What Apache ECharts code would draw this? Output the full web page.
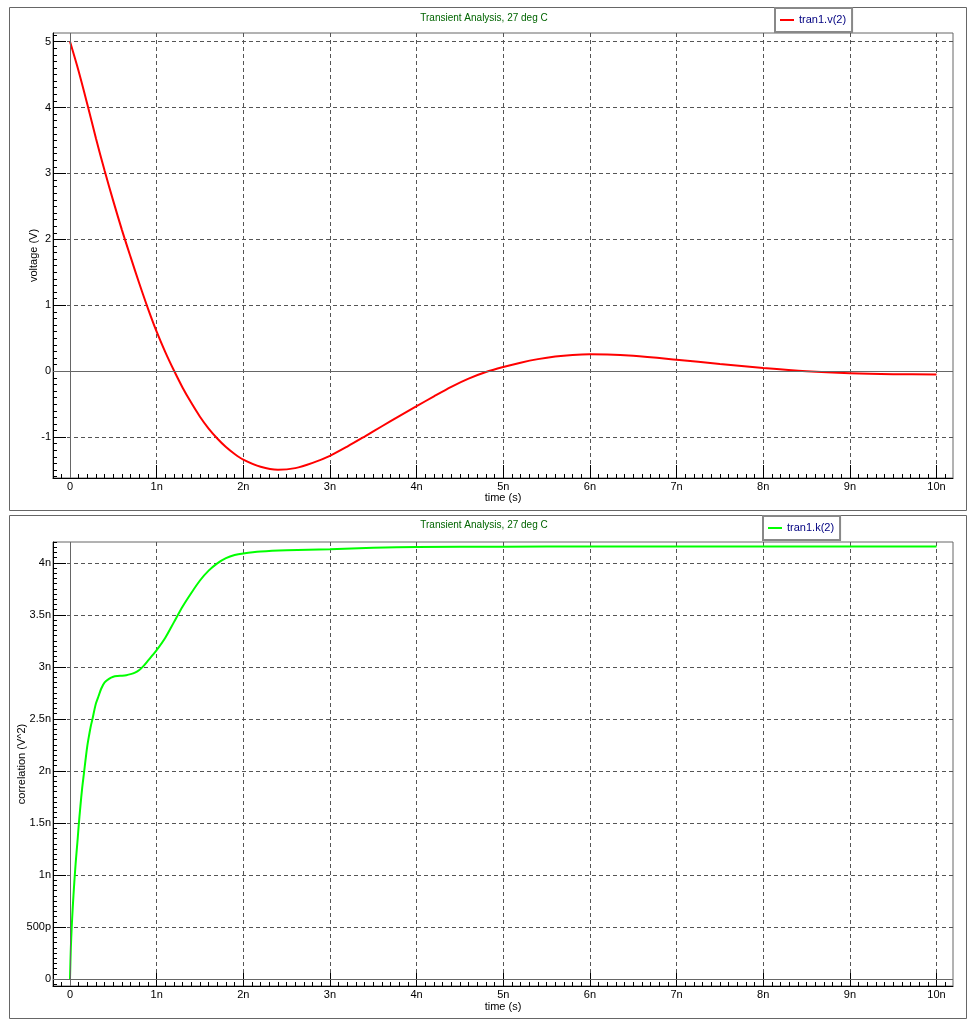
<!DOCTYPE html>
<html>
<head>
<meta charset="utf-8">
<script src="https://cdn.jsdelivr.net/npm/echarts@6/dist/echarts.min.js"></script>
<style>
  html, body { margin: 0; padding: 0; background: #fff; }
  #chart { width: 968px; height: 1021px; }
</style>
</head>
<body>
<div id="chart"></div>
<script>
// ---- data (time in ns) ----
const timeV = [0, 0.1, 0.2, 0.3, 0.4, 0.5, 0.6, 0.7, 0.8, 0.9, 1.0, 1.1, 1.2, 1.3, 1.4, 1.5, 1.6, 1.7, 1.8, 1.9, 2.0, 2.2, 2.4, 2.6, 2.8, 3.0, 3.2, 3.4, 3.6, 3.8, 4.0, 4.2, 4.4, 4.6, 4.8, 5.0, 5.2, 5.4, 5.6, 5.8, 6.0, 6.2, 6.5, 7.0, 7.5, 8.0, 8.5, 9.0, 9.5, 10.0];
const voltage = [5.0, 4.55, 4.05, 3.53, 3.04, 2.58, 2.14, 1.73, 1.33, 0.95, 0.60, 0.29, 0.01, -0.25, -0.48, -0.69, -0.87, -1.02, -1.15, -1.255, -1.34, -1.45, -1.495, -1.47, -1.39, -1.283, -1.143, -0.991, -0.835, -0.681, -0.531, -0.381, -0.237, -0.113, -0.013, 0.063, 0.129, 0.183, 0.223, 0.247, 0.257, 0.255, 0.235, 0.175, 0.11, 0.05, 0.0, -0.03, -0.045, -0.05];

const timeK = [0, 0.01, 0.02, 0.03, 0.04, 0.05, 0.06, 0.07, 0.08, 0.09, 0.1, 0.12, 0.14, 0.16, 0.18, 0.2, 0.22, 0.24, 0.26, 0.28, 0.3, 0.33, 0.36, 0.4, 0.45, 0.5, 0.55, 0.6, 0.65, 0.7, 0.75, 0.8, 0.85, 0.9, 0.95, 1.0, 1.1, 1.2, 1.3, 1.4, 1.5, 1.6, 1.7, 1.8, 1.9, 2.0, 2.2, 2.5, 3.0, 3.5, 4.0, 5.0, 6.0, 7.0, 8.0, 9.0, 10.0];
const corr = [0.0, 0.3, 0.5, 0.66, 0.8, 0.93, 1.05, 1.16, 1.26, 1.36, 1.47, 1.66, 1.83, 1.97, 2.11, 2.24, 2.34, 2.43, 2.50, 2.58, 2.65, 2.72, 2.79, 2.85, 2.885, 2.905, 2.912, 2.915, 2.92, 2.93, 2.945, 2.97, 3.01, 3.06, 3.11, 3.16, 3.28, 3.43, 3.58, 3.71, 3.83, 3.925, 3.995, 4.045, 4.075, 4.09, 4.108, 4.12, 4.13, 4.145, 4.153, 4.155, 4.156, 4.156, 4.157, 4.157, 4.157];

// ---- tick labels ----
const xTickValues = [0, 1, 2, 3, 4, 5, 6, 7, 8, 9, 10];
const xTickLabels = ['0', '1n', '2n', '3n', '4n', '5n', '6n', '7n', '8n', '9n', '10n'];
const vTickValues = [-1, 0, 1, 2, 3, 4, 5];
const vTickLabels = ['-1', '0', '1', '2', '3', '4', '5'];
const kTickValues = [0, 0.5, 1, 1.5, 2, 2.5, 3, 3.5, 4];
const kTickLabels = ['0', '500p', '1n', '1.5n', '2n', '2.5n', '3n', '3.5n', '4n'];

const titleText = 'Transient Analysis, 27 deg C';
const seriesNames = ['tran1.v(2)', 'tran1.k(2)'];
const axisNames = { x: 'time (s)', v: 'voltage (V)', k: 'correlation (V^2)' };

// ---- helpers ----
function lookup(vals, labels) {
  return function (v) {
    const i = vals.findIndex(t => Math.abs(t - v) < 1e-6);
    return i >= 0 ? labels[i] : '';
  };
}
function minorValues(min, max, step) {
  const out = [];
  for (let i = Math.ceil(min / step - 1e-9); i * step <= max + 1e-9; i++) out.push(+(i * step).toFixed(4));
  return out;
}

const X_MIN = -0.196, X_MAX = 10.19;
const V_MIN = -1.62, V_MAX = 5.13;
const K_MIN = -0.067, K_MAX = 4.2;
const FONT = 'Liberation Sans, Arial, sans-serif';

function majorAxis(kind, gridIndex, min, max, vals, labels, name, nameGap) {
  const isX = kind === 'x';
  const ax = {
    type: 'value', gridIndex, min, max,
    position: isX ? 'bottom' : 'left',
    name, nameLocation: 'middle', nameGap,
    nameTextStyle: { fontFamily: FONT, fontSize: 11, color: '#000' },
    axisLine: { show: true, onZero: false, lineStyle: { color: '#000', width: 1 } },
    axisTick: { show: true, inside: true, length: 13, customValues: vals, lineStyle: { color: '#000', width: 1 } },
    axisLabel: {
      show: true, customValues: vals, formatter: lookup(vals, labels),
      margin: isX ? 3 : 2, fontFamily: FONT, fontSize: 11, color: '#000'
    },
    splitLine: { show: true, lineStyle: { color: '#555', type: [4, 3], width: 1 } },
    minorTick: { show: false }
  };
  if (!isX) ax.nameMoveOverlap = false;
  return ax;
}
function minorAxis(kind, gridIndex, min, max, step) {
  const isX = kind === 'x';
  return {
    type: 'value', gridIndex, min, max,
    position: isX ? 'bottom' : 'left',
    axisLine: { show: false, onZero: false },
    axisTick: { show: true, inside: true, length: 4, customValues: minorValues(min, max, step), lineStyle: { color: '#000', width: 1 } },
    axisLabel: { show: false },
    splitLine: { show: false }
  };
}

const zeroLines = {
  silent: true, symbol: ['none', 'none'], label: { show: false },
  lineStyle: { color: '#666', type: 'solid', width: 1 },
  emphasis: { disabled: true },
  data: [{ xAxis: 0 }, { yAxis: 0 }]
};

const chart = echarts.init(document.getElementById('chart'));
chart.setOption({
  backgroundColor: '#fff',
  animation: false,
  graphic: [
    { type: 'rect', shape: { x: 9.5, y: 7.5, width: 957, height: 503 }, style: { fill: 'none', stroke: '#666', lineWidth: 1 }, silent: true },
    { type: 'rect', shape: { x: 9.5, y: 515.5, width: 957, height: 503 }, style: { fill: 'none', stroke: '#666', lineWidth: 1 }, silent: true }
  ],
  title: [
    { text: titleText, left: 'center', top: 13, padding: 0, textStyle: { fontFamily: FONT, fontSize: 10, fontWeight: 'normal', color: '#006400' } },
    { text: titleText, left: 'center', top: 520, padding: 0, textStyle: { fontFamily: FONT, fontSize: 10, fontWeight: 'normal', color: '#006400' } }
  ],
  legend: [
    {
      data: [seriesNames[0]], left: 775, top: 8, orient: 'horizontal',
      padding: [5, 6, 5, 5], borderColor: '#888', borderWidth: 2, backgroundColor: '#fff',
      icon: 'rect', itemWidth: 14, itemHeight: 2, selectedMode: false,
      textStyle: { fontFamily: FONT, fontSize: 11, color: '#000080', lineHeight: 14 }
    },
    {
      data: [seriesNames[1]], left: 763, top: 516, orient: 'horizontal',
      padding: [5, 6, 5, 5], borderColor: '#888', borderWidth: 2, backgroundColor: '#fff',
      icon: 'rect', itemWidth: 14, itemHeight: 2, selectedMode: false,
      textStyle: { fontFamily: FONT, fontSize: 11, color: '#000080', lineHeight: 14 }
    }
  ],
  grid: [
    { left: 53, top: 33, width: 900, height: 445, show: true, borderColor: '#666', borderWidth: 1, backgroundColor: 'transparent', containLabel: false, outerBoundsMode: 'none' },
    { left: 53, top: 542, width: 900, height: 444, show: true, borderColor: '#666', borderWidth: 1, backgroundColor: 'transparent', containLabel: false, outerBoundsMode: 'none' }
  ],
  xAxis: [
    majorAxis('x', 0, X_MIN, X_MAX, xTickValues, xTickLabels, axisNames.x, 14),
    minorAxis('x', 0, X_MIN, X_MAX, 0.1),
    majorAxis('x', 1, X_MIN, X_MAX, xTickValues, xTickLabels, axisNames.x, 15),
    minorAxis('x', 1, X_MIN, X_MAX, 0.1)
  ],
  yAxis: [
    majorAxis('y', 0, V_MIN, V_MAX, vTickValues, vTickLabels, axisNames.v, 14),
    minorAxis('y', 0, V_MIN, V_MAX, 0.1),
    majorAxis('y', 1, K_MIN, K_MAX, kTickValues, kTickLabels, axisNames.k, 26),
    minorAxis('y', 1, K_MIN, K_MAX, 0.05)
  ],
  series: [
    {
      name: seriesNames[0], type: 'line', xAxisIndex: 0, yAxisIndex: 0,
      data: timeV.map((t, i) => [t, voltage[i]]),
      showSymbol: false, symbol: 'none', smooth: 0.3,
      lineStyle: { color: '#ff0000', width: 2 }, itemStyle: { color: '#ff0000' },
      markLine: zeroLines, z: 3
    },
    {
      name: seriesNames[1], type: 'line', xAxisIndex: 2, yAxisIndex: 2,
      data: timeK.map((t, i) => [t, corr[i]]),
      showSymbol: false, symbol: 'none', smooth: 0.3,
      lineStyle: { color: '#00ff00', width: 2 }, itemStyle: { color: '#00ff00' },
      markLine: zeroLines, z: 3
    }
  ]
});
</script>
</body>
</html>
